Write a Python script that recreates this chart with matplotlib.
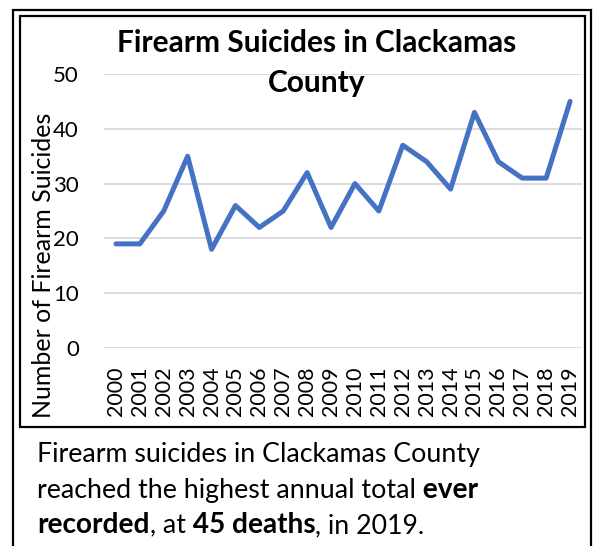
import matplotlib
matplotlib.use("Agg")
import matplotlib.pyplot as plt
from matplotlib.patches import Rectangle

plt.rcParams['font.family'] = ['Lato', 'DejaVu Sans']

years = [str(y) for y in range(2000, 2020)]
deaths = [19, 19, 25, 35, 18, 26, 22, 25, 32, 22, 30, 25, 37, 34, 29, 43, 34, 31, 31, 45]
y_ticks = [0, 10, 20, 30, 40, 50]

W, H = 596, 546
fig = plt.figure(figsize=(W / 100, H / 100), dpi=100)


def fx(x):
    return x / W


def fy(y):
    return 1 - y / H


# boxes (outer frame runs off the bottom)
fig.patches.append(Rectangle((fx(12.5), fy(600)), fx(591) - fx(12.5), fy(10) - fy(600),
                             transform=fig.transFigure, fill=False, lw=1.6, ec='black'))
fig.patches.append(Rectangle((fx(19.5), fy(427)), fx(585) - fx(19.5), fy(16) - fy(427),
                             transform=fig.transFigure, fill=False, lw=1.6, ec='black'))

ax = fig.add_axes([fx(104), fy(348), fx(582) - fx(104), fy(74) - fy(348)])
x = list(range(len(years)))
ax.plot(x, deaths, color='#4472C4', lw=3.6, solid_joinstyle='round', solid_capstyle='round', zorder=3)
ax.set_xlim(-0.5, len(years) - 0.5)
ax.set_ylim(0, 50)
ax.set_yticks(y_ticks)
ax.set_xticks(x)
ax.set_xticklabels(years, rotation=90, fontsize=15.5)
ax.tick_params(axis='y', length=0, pad=18, labelsize=16)
ax.tick_params(axis='x', length=0, pad=13)
ax.grid(axis='y', color='#d9d9d9', lw=1.3, zorder=0)
for s in ax.spines.values():
    s.set_visible(False)
ax.set_facecolor('none')

fig.text(fx(317), fy(63), "Firearm Suicides in Clackamas\nCounty", ha='center', va='center',
         fontsize=21.5, fontweight='bold', linespacing=1.5)
fig.text(fx(44), fy(265), "Number of Firearm Suicides", rotation=90, ha='center', va='center',
         fontsize=18)

# caption with mixed weights
fs = 19.3
fsb = 20.2
fig.text(fx(37), fy(462), "Firearm suicides in Clackamas County", fontsize=fs, va='baseline')
t = fig.text(fx(37), fy(498), "reached the highest annual total", fontsize=fs, va='baseline')
ax.annotate(" ever", xy=(1, 0), xycoords=t, va='bottom', fontsize=fsb, fontweight='bold')
pieces = [("recorded", 'bold'), (", at", 'normal'), (" 45 deaths", 'bold'), (", in 2019.", 'normal')]
t = fig.text(fx(37), fy(533), pieces[0][0], fontsize=fsb, fontweight=pieces[0][1], va='baseline')
for txt, wt in pieces[1:]:
    t = ax.annotate(txt, xy=(1, 0), xycoords=t, va='bottom',
                    fontsize=fsb if wt == 'bold' else fs, fontweight=wt)

fig.savefig("out.png", dpi=100)
